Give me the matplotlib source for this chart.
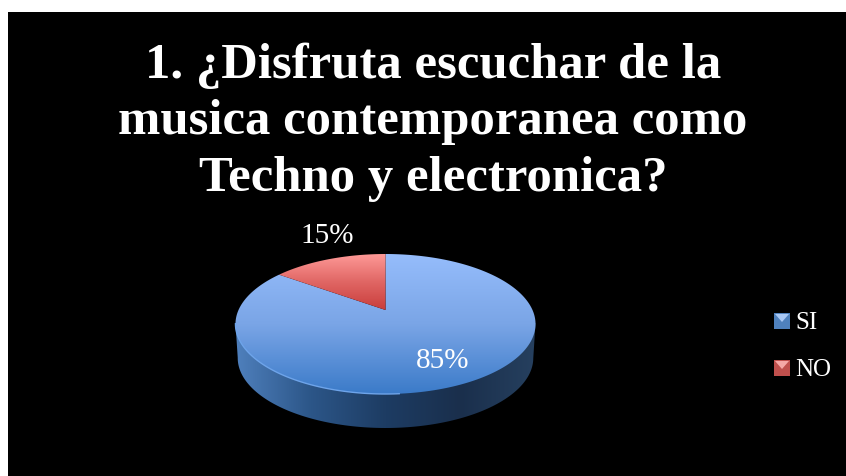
import numpy as np
import matplotlib
matplotlib.use("Agg")
import matplotlib.pyplot as plt
from matplotlib.patches import Polygon, Rectangle
from matplotlib.colors import LinearSegmentedColormap

# ---- data ----
categories = ["SI", "NO"]
values = [85, 15]
labels = ["85%", "15%"]
title = "1. ¿Disfruta escuchar de la\nmusica contemporanea como\nTechno y electronica?"

plt.rcParams["font.family"] = ["Liberation Serif", "DejaVu Serif"]

fig = plt.figure(figsize=(8.46, 4.76), dpi=100, facecolor="white")
ax = fig.add_axes([0, 0, 1, 1])

# unit pie, hidden: only used for its wedge angles
wedges, _ = ax.pie(values, startangle=90, counterclock=False)
for w in wedges:
    w.set_visible(False)

ax.set_aspect("auto")
ax.set_xlim(0, 846)
ax.set_ylim(476, 0)
ax.axis("off")
ax.add_patch(Rectangle((8, 12), 838, 464, fc="black", ec="none", zorder=0))

# ---- tilted pie projection ----
CX, CY = 385.5, 310
K, SX, SY = 0.2, 147, 67.2


def project(x, y, cy=CY, sx=SX):
    d = 1 + K * y
    return CX + sx * x / d, cy - SY * y / d


def wedge_poly(w):
    t = np.radians(np.linspace(w.theta1, w.theta2, 200))
    x = np.r_[0, np.cos(t) * w.r, 0]
    y = np.r_[0, np.sin(t) * w.r, 0]
    return np.column_stack(project(x, y))


def gradient(poly_xy, colors, extent, horizontal=False, z=2):
    cmap = LinearSegmentedColormap.from_list("g", colors)
    g = np.linspace(0, 1, 256)
    g = g[None, :] if horizontal else g[:, None]
    im = ax.imshow(g, cmap=cmap, extent=extent, aspect="auto", zorder=z, interpolation="bilinear")
    clip = Polygon(poly_xy, closed=True, fc="none", ec="none", transform=ax.transData)
    ax.add_patch(clip)
    im.set_clip_path(clip)
    return im


t = np.linspace(0, 2 * np.pi, 400)
ex, ey = project(np.cos(t), np.sin(t))

# side wall
lx, ly = project(np.cos(t), np.sin(t), cy=CY + 34, sx=SX * 0.985)
low = ly >= ly[np.argmin(lx)]
order = np.argsort(lx[low])
wall = np.column_stack([lx[low][order], ly[low][order]])
wall = np.vstack([[ex.min(), 323], wall, [ex.max(), 323]])
gradient(wall, ["#4f80bd", "#2c5688", "#1d3c63", "#1a2f4c", "#26405f"],
         (235, 536, 430, 320), horizontal=True, z=2)

# top faces
gradient(wedge_poly(wedges[0]), ["#96bdfc", "#7aa5e6", "#3a7ac8"], (235, 536, 395, 253), z=3)
gradient(wedge_poly(wedges[1]), ["#ff9b99", "#e06664", "#c83c3a"], (270, 386, 311, 253), z=4)

# light rim along the front left of the top face
front = (ey > 323) & (ex < 400)
ax.plot(ex[front][np.argsort(ex[front])], ey[front][np.argsort(ex[front])],
        color="#6ea4ea", lw=1.0, zorder=5)

# ---- text ----
ax.text(433, 122, title, ha="center", va="center", color="white",
        fontsize=36.5, fontweight="bold", linespacing=1.3)
ax.text(443, 361, labels[0], ha="center", va="center", color="white", fontsize=21)
ax.text(327, 236, labels[1], ha="center", va="center", color="white", fontsize=21)

# ---- legend ----
leg_y = [321, 368]
leg_cols = [("#4f81bd", "#a8c8f5"), ("#c0504d", "#f5a8a6")]
for name, yy, (base, light) in zip(categories, leg_y, leg_cols):
    ax.add_patch(Rectangle((774, yy - 8), 16, 16, fc=base, ec="none", zorder=3))
    ax.add_patch(Polygon([(775, yy - 7), (789, yy - 7), (782, yy + 1)], fc=light, ec="none", zorder=4))
    ax.text(795, yy + 2, name, ha="left", va="center", color="white", fontsize=18)

fig.savefig("out.png", dpi=100, facecolor="white")
